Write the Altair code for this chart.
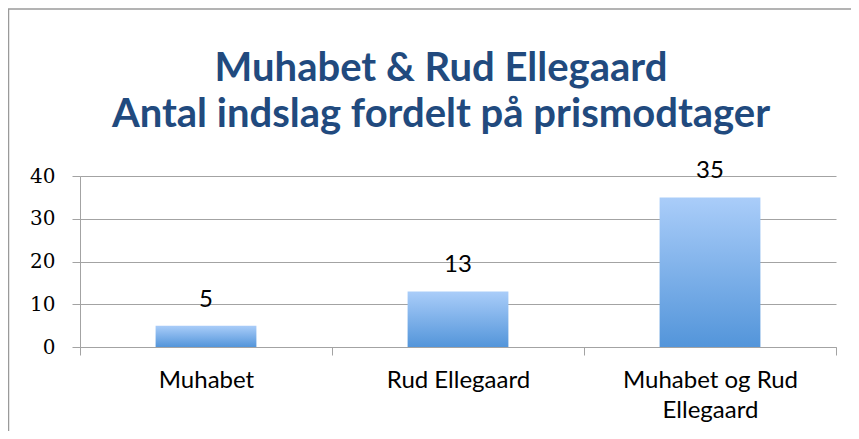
import altair as alt
import pandas as pd

categories = ["Muhabet", "Rud Ellegaard", "Muhabet og Rud Ellegaard"]
values = [5, 13, 35]
y_ticks = [0, 10, 20, 30, 40]
title_lines = ["Muhabet & Rud Ellegaard", "Antal indslag fordelt på prismodtager"]

df = pd.DataFrame({"kategori": categories, "antal": values})

GRID = "#A3A3A3"

gradient = {
    "gradient": "linear",
    "x1": 0, "x2": 0, "y1": 0, "y2": 1,
    "stops": [
        {"offset": 0, "color": "#AACDF9"},
        {"offset": 1, "color": "#5395DA"},
    ],
}

x_enc = alt.X(
    "kategori:N",
    sort=categories,
    scale=alt.Scale(paddingInner=0, paddingOuter=0),
    axis=alt.Axis(
        title=None,
        labelAngle=0,
        tickBand="extent",
        tickSize=8,
        tickColor=GRID,
        domainColor=GRID,
        labelFont="Lato",
        labelFontSize=24,
        labelColor="black",
        labelPadding=13,
        labelLineHeight=30,
        labelExpr="datum.label == 'Muhabet og Rud Ellegaard' ? ['Muhabet og Rud', 'Ellegaard'] : datum.label",
    ),
)
y_enc = alt.Y(
    "antal:Q",
    scale=alt.Scale(domain=[0, 40], nice=False),
    axis=alt.Axis(
        title=None,
        values=y_ticks,
        tickSize=8,
        tickColor=GRID,
        domainColor=GRID,
        gridColor=GRID,
        grid=True,
        labelFont="DejaVu Serif",
        labelFontSize=20,
        labelColor="black",
        labelPadding=17,
    ),
)

bars = alt.Chart(df).mark_bar(
    color=gradient, width=alt.RelativeBandSize(0.4)
).encode(x=x_enc, y=y_enc)

labels = alt.Chart(df).mark_text(
    baseline="alphabetic", dy=-19, font="Lato", fontSize=24, color="black"
).encode(x=alt.X("kategori:N", sort=categories), y="antal:Q", text="antal:Q")

frame = alt.Chart(alt.Data(values=[{}])).mark_rect(
    fill=None, stroke="#9A9A9A", strokeWidth=1.5
).encode(
    x=alt.value(-71.5), x2=alt.value(900), y=alt.value(-167), y2=alt.value(400)
)

chart = alt.layer(frame, bars, labels).properties(
    width=756,
    height=171,
    autosize=alt.AutoSizeParams(type="none"),
    padding={"left": 72, "top": 168, "right": 15, "bottom": 84},
    title=alt.Title(
        title_lines,
        font="Lato",
        fontSize=40,
        fontWeight="bold",
        color="#214A7E",
        lineHeight=46,
        anchor="middle",
        dx=-17,
        offset=-127,
    ),
).configure_view(stroke=None)

chart.save("out.html", embed_options={"renderer": "svg", "actions": False})
